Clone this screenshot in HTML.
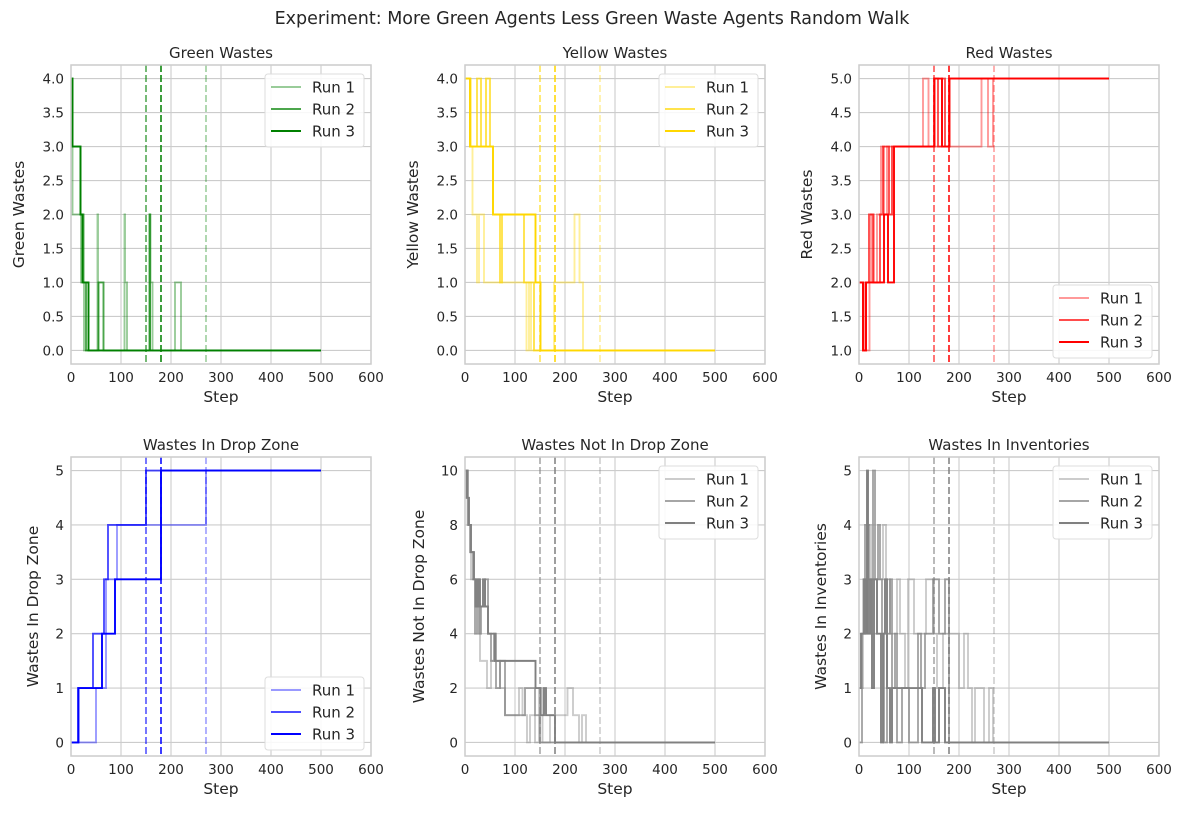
<!DOCTYPE html>
<html><head><meta charset="utf-8"><style>
body{margin:0;background:#fff;font-family:"Liberation Sans","DejaVu Sans",sans-serif;}
svg text{font-family:"DejaVu Sans","Liberation Sans",sans-serif;fill:#262626;}
</style></head><body>
<svg id="fig" width="1184" height="818" xmlns="http://www.w3.org/2000/svg">
<text x="592" y="24" text-anchor="middle" font-size="17.5">Experiment: More Green Agents Less Green Waste Agents Random Walk</text>
</svg>
<script>
// ---- data (step, value change points) ----
const greenRun1Steps=[0,3,20,26,53,54,60,107,108,112,158,159,163,208,220];
const greenRun1Vals=[3,2,1,0,2,0,0,2,1,0,2,1,0,1,0];
const greenRun2Steps=[0,3,19,25,30,55,65,157,158];
const greenRun2Vals=[4,3,2,1,0,1,0,2,0];
const greenRun3Steps=[0,3,19,23,35];
const greenRun3Vals=[4,3,2,1,0];

const yellowRun1Steps=[0,12,15,24,28,38,123,128,132,178,219,229,236];
const yellowRun1Vals=[4,3,2,1,2,1,0,1,0,1,2,1,0];
const yellowRun2Steps=[0,10,24,32,42,50,56,70,74,118,138,152];
const yellowRun2Vals=[4,3,4,3,4,3,2,1,2,1,0,0];
const yellowRun3Steps=[0,10,56,141,151];
const yellowRun3Vals=[4,3,2,1,0];

const redRun1Steps=[0,11,21,24,30,36,44,50,56,60,128,139,185,245,258,268];
const redRun1Vals=[2,1,2,3,2,3,4,3,4,4,5,4,4,5,4,5];
const redRun2Steps=[0,8,14,20,28,42,48,60,66,70,150,158,166,172,180];
const redRun2Vals=[2,1,2,3,2,3,4,3,4,4,5,4,5,4,5];
const redRun3Steps=[0,8,14,44,50,58,70,151,166,181];
const redRun3Vals=[2,1,2,2,3,2,4,5,4,5];

const dropRun1Steps=[0,50,70,92,270];
const dropRun1Vals=[0,1,3,4,5];
const dropRun2Steps=[0,14,44,66,74,150];
const dropRun2Vals=[0,1,2,3,4,5];
const dropRun3Steps=[0,15,62,88,180];
const dropRun3Vals=[0,1,2,3,5];

const notRun1Steps=[0,5,12,20,30,44,52,70,80,108,115,124,130,140,148,155,170,205,216,228,234,242];
const notRun1Vals=[10,8,6,5,3,2,3,2,1,2,1,0,1,0,2,0,1,2,1,0,1,0];
const notRun2Steps=[0,3,6,10,16,20,24,28,32,40,46,52,58,62,70,80,120,140,150];
const notRun2Vals=[9,10,8,7,6,4,6,4,5,6,4,3,4,2,3,1,2,1,0];
const notRun3Steps=[0,4,8,12,18,22,26,30,36,40,46,60,76,141,151,158,162,180];
const notRun3Vals=[10,9,8,7,6,5,6,5,6,5,4,3,3,2,1,2,1,0];

const invRun1Steps=[0,8,16,24,36,48,54,62,76,82,92,98,110,134,150,156,168,200,210,218,226,232,250,260,268];
const invRun1Vals=[1,3,4,2,3,4,3,2,3,2,1,3,2,3,2,1,2,1,2,1,0,1,0,1,0];
const invRun2Steps=[0,6,12,20,28,32,38,42,46,50,56,62,66,72,76,86,100,118,124,132,148,160,172,180];
const invRun2Vals=[0,2,4,3,5,3,4,3,2,0,2,3,1,2,0,1,0,2,1,2,3,2,3,0];
const invRun3Steps=[0,4,10,14,16,18,22,26,30,36,44,48,52,56,62,66,108,126,148,152,160,172];
const invRun3Vals=[1,2,3,2,5,2,3,1,3,2,0,2,3,1,0,1,1,0,1,0,1,0];

const xTicks=[0,100,200,300,400,500,600];
const endLines=[270,150,180]; // run1, run2, run3 end steps
const runLabels=["Run 1","Run 2","Run 3"];

const panels=[
 {title:"Green Wastes",ylab:"Green Wastes",color:"#008000",left:71,top:65,ymin:-0.2,ymax:4.2,ticks:[0,0.5,1,1.5,2,2.5,3,3.5,4],fmt:1,leg:"top",
  runs:[[greenRun1Steps,greenRun1Vals],[greenRun2Steps,greenRun2Vals],[greenRun3Steps,greenRun3Vals]],ylx:18},
 {title:"Yellow Wastes",ylab:"Yellow Wastes",color:"#FFD700",left:465,top:65,ymin:-0.2,ymax:4.2,ticks:[0,0.5,1,1.5,2,2.5,3,3.5,4],fmt:1,leg:"top",
  runs:[[yellowRun1Steps,yellowRun1Vals],[yellowRun2Steps,yellowRun2Vals],[yellowRun3Steps,yellowRun3Vals]],ylx:412},
 {title:"Red Wastes",ylab:"Red Wastes",color:"#FF0000",left:859,top:65,ymin:0.8,ymax:5.2,ticks:[1,1.5,2,2.5,3,3.5,4,4.5,5],fmt:1,leg:"bottom",
  runs:[[redRun1Steps,redRun1Vals],[redRun2Steps,redRun2Vals],[redRun3Steps,redRun3Vals]],ylx:806},
 {title:"Wastes In Drop Zone",ylab:"Wastes In Drop Zone",color:"#0000FF",left:71,top:457,ymin:-0.25,ymax:5.25,ticks:[0,1,2,3,4,5],fmt:0,leg:"bottom",
  runs:[[dropRun1Steps,dropRun1Vals],[dropRun2Steps,dropRun2Vals],[dropRun3Steps,dropRun3Vals]],ylx:32},
 {title:"Wastes Not In Drop Zone",ylab:"Wastes Not In Drop Zone",color:"#808080",left:465,top:457,ymin:-0.5,ymax:10.5,ticks:[0,2,4,6,8,10],fmt:0,leg:"top",
  runs:[[notRun1Steps,notRun1Vals],[notRun2Steps,notRun2Vals],[notRun3Steps,notRun3Vals]],ylx:418},
 {title:"Wastes In Inventories",ylab:"Wastes In Inventories",color:"#808080",left:859,top:457,ymin:-0.25,ymax:5.25,ticks:[0,1,2,3,4,5],fmt:0,leg:"top",
  runs:[[invRun1Steps,invRun1Vals],[invRun2Steps,invRun2Vals],[invRun3Steps,invRun3Vals]],ylx:820}
];
const alphas=[0.4,0.7,1.0];
const NS="http://www.w3.org/2000/svg";
const fig=document.getElementById('fig');
function mk(tag,attrs,parent){const e=document.createElementNS(NS,tag);for(const k in attrs)e.setAttribute(k,attrs[k]);(parent||fig).appendChild(e);return e;}
const W=300,H=299;
panels.forEach((p,pi)=>{
  const g=mk('g',{});
  
  
  const xs=s=>p.left+s/600*W;
  const ys=v=>p.top+(p.ymax-v)/(p.ymax-p.ymin)*H;
  xTicks.forEach(t=>{
    const l=mk('line',{x1:xs(t),x2:xs(t),y1:p.top,y2:p.top+H,stroke:'#cccccc','stroke-width':1.1},g);
    
    
    const tx=mk('text',{x:xs(t),y:p.top+H+18,'text-anchor':'middle','font-size':13.5},g);
    tx.textContent=t;
    
    
  });
  p.ticks.forEach(t=>{
    const l=mk('line',{x1:p.left,x2:p.left+W,y1:ys(t),y2:ys(t),stroke:'#cccccc','stroke-width':1.1},g);
    
    
    const tx=mk('text',{x:p.left-7,y:ys(t)+5,'text-anchor':'end','font-size':13.5},g);
    tx.textContent=t.toFixed(p.fmt);
    
    
  });
  p.runs.forEach((r,ri)=>{
    const [st,vl]=r;
    let d='M'+xs(st[0])+','+ys(vl[0]);
    for(let i=1;i<st.length;i++){d+=' H'+xs(st[i])+' V'+ys(vl[i]);}
    d+=' H'+xs(500);
    const path=mk('path',{d:d,fill:'none',stroke:p.color,'stroke-opacity':alphas[ri],'stroke-width':1.9},g);
    
    
    const dl=mk('line',{x1:xs(endLines[ri]),x2:xs(endLines[ri]),y1:p.top,y2:p.top+H,stroke:p.color,'stroke-opacity':alphas[ri]*0.85,'stroke-width':1.8,'stroke-dasharray':'7,3'},g);
    
    
  });
  const fr=mk('rect',{x:p.left,y:p.top,width:W,height:H,fill:'none',stroke:'#cccccc','stroke-width':1.5},g);
  
  
  const ti=mk('text',{x:p.left+W/2,y:p.top-7,'text-anchor':'middle','font-size':15},g);
  ti.textContent=p.title;
  
  
  const xl=mk('text',{x:p.left+W/2,y:p.top+H+38,'text-anchor':'middle','font-size':15.5},g);
  xl.textContent='Step';
  
  
  const yl=mk('text',{x:0,y:0,'text-anchor':'middle','font-size':15.5,transform:'translate('+(p.ylx+6)+','+(p.top+H/2)+') rotate(-90)'},g);
  yl.textContent=p.ylab;
  
  
  const lx=p.left+W-106, ly=p.leg==='top'?p.top+9:p.top+H-79;
  const lg=mk('g',{},g);
  
  
  mk('rect',{x:lx,y:ly,width:99,height:73,rx:3,fill:'#fff','fill-opacity':0.85,stroke:'#dddddd'},lg);
  runLabels.forEach((lab,ri)=>{
    const yy=ly+13+ri*22;
    const ll=mk('line',{x1:lx+6,x2:lx+36,y1:yy,y2:yy,stroke:p.color,'stroke-opacity':alphas[ri],'stroke-width':1.9},lg);
    
    
    const t=mk('text',{x:lx+47,y:yy+5.5,'font-size':15},lg);
    t.textContent=lab;
    
    
  });
});
</script>
</body></html>
